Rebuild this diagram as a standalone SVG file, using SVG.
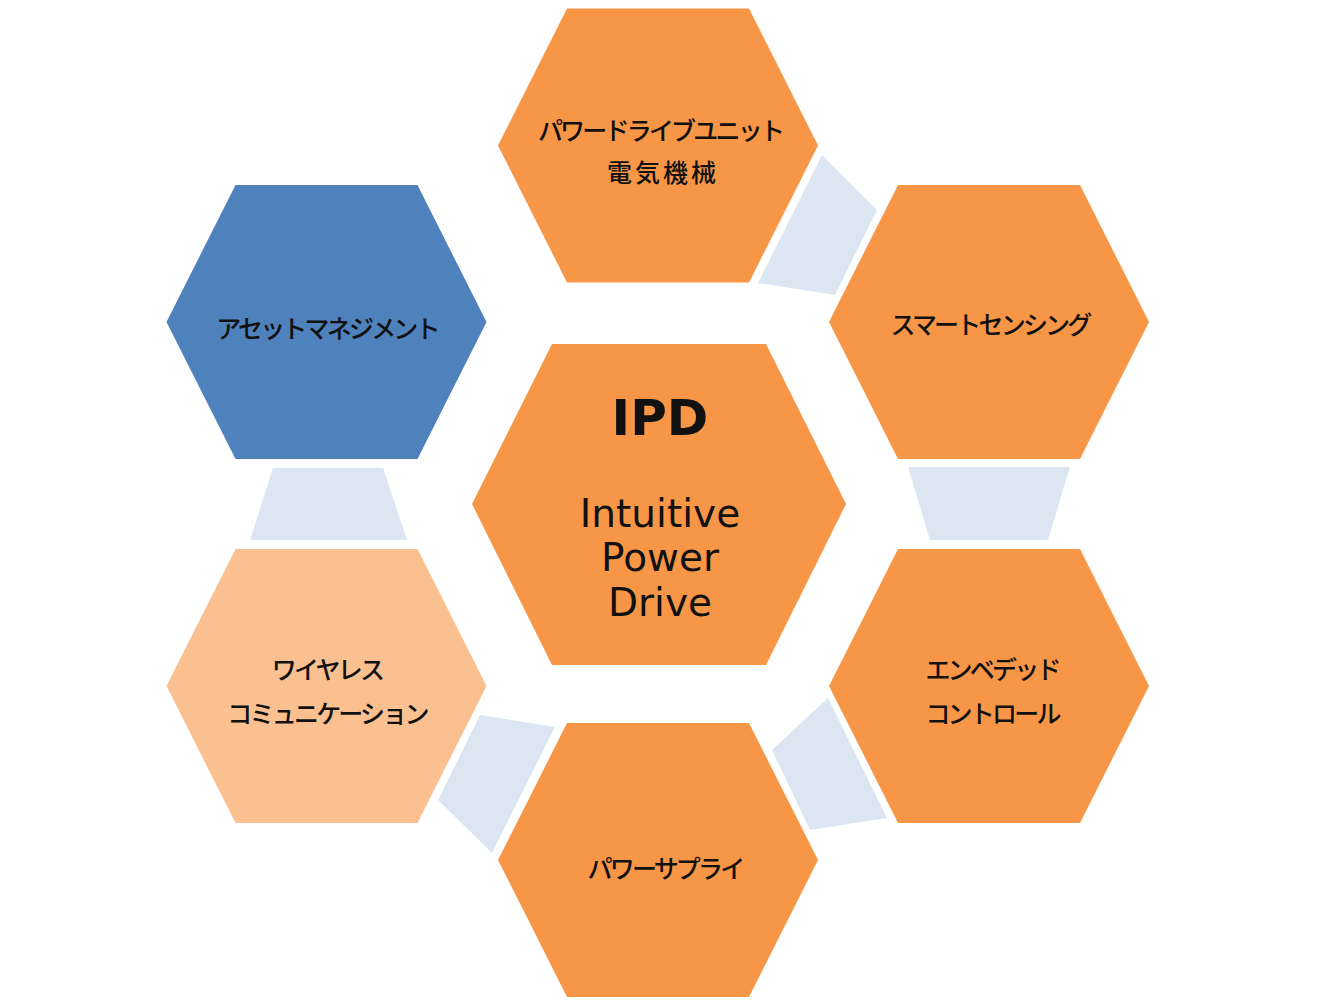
<svg xmlns="http://www.w3.org/2000/svg" width="1320" height="1006" viewBox="0 0 1320 1006">
<defs>
<style>
.hex{fill:#F79646}
.hex-blue{fill:#4F81BD}
.hex-light{fill:#FAC090}
.link{fill:#DCE6F2}
.jp{font-family:"Noto Sans CJK JP","Noto Sans",sans-serif;font-size:25px;letter-spacing:-2.8px;font-weight:500;fill:#111;text-anchor:middle;dominant-baseline:central}
.kanji{font-size:25px;letter-spacing:3px}
.en{font-family:"DejaVu Sans","Noto Sans",sans-serif;fill:#111;text-anchor:middle}
</style>
<polygon id="hx" points="-160,0 -91,-137 91,-137 160,0 91,137 -91,137"/>
</defs>
<rect width="1320" height="1006" fill="#ffffff"/>
<g id="connectors">
<polygon class="link" points="822,155 877,210 835,295 758,283"/>
<polygon class="link" points="908,467 1070,467 1048,540 930,540"/>
<polygon class="link" points="828,698 887,818 810,830 772,750"/>
<polygon class="link" points="480,715 555,727 492,853 438,800"/>
<polygon class="link" points="273,468 383,468 407,540 250,540"/>
</g>
<g id="node-pdu">
<use href="#hx" class="hex" x="658" y="145.5"/>
<text class="jp" x="660" y="129">パワードライブユニット</text>
<text class="jp kanji" x="663" y="171">電気機械</text>
</g>
<g id="node-sensing">
<use href="#hx" class="hex" x="989" y="322"/>
<text class="jp" x="990" y="323">スマートセンシング</text>
</g>
<g id="node-embedded">
<use href="#hx" class="hex" x="989" y="686"/>
<text class="jp" x="992" y="668">エンベデッド</text>
<text class="jp" x="992" y="712">コントロール</text>
</g>
<g id="node-power">
<use href="#hx" class="hex" x="658" y="860"/>
<text class="jp" x="665" y="867">パワーサプライ</text>
</g>
<g id="node-wireless">
<use href="#hx" class="hex-light" x="326.5" y="686"/>
<text class="jp" x="327" y="668">ワイヤレス</text>
<text class="jp" x="327" y="712">コミュニケーション</text>
</g>
<g id="node-asset">
<use href="#hx" class="hex-blue" x="326.5" y="322"/>
<text class="jp" x="327" y="327">アセットマネジメント</text>
</g>
<g id="node-ipd">
<polygon class="hex" points="472,504 552,344 766,344 846,504 766,665 552,665"/>
<text class="en" x="660" y="435" font-size="50" font-weight="bold">IPD</text>
<text class="en" x="660" y="527" font-size="39">Intuitive</text>
<text class="en" x="660" y="571" font-size="39">Power</text>
<text class="en" x="660" y="616" font-size="39">Drive</text>
</g>
</svg>
